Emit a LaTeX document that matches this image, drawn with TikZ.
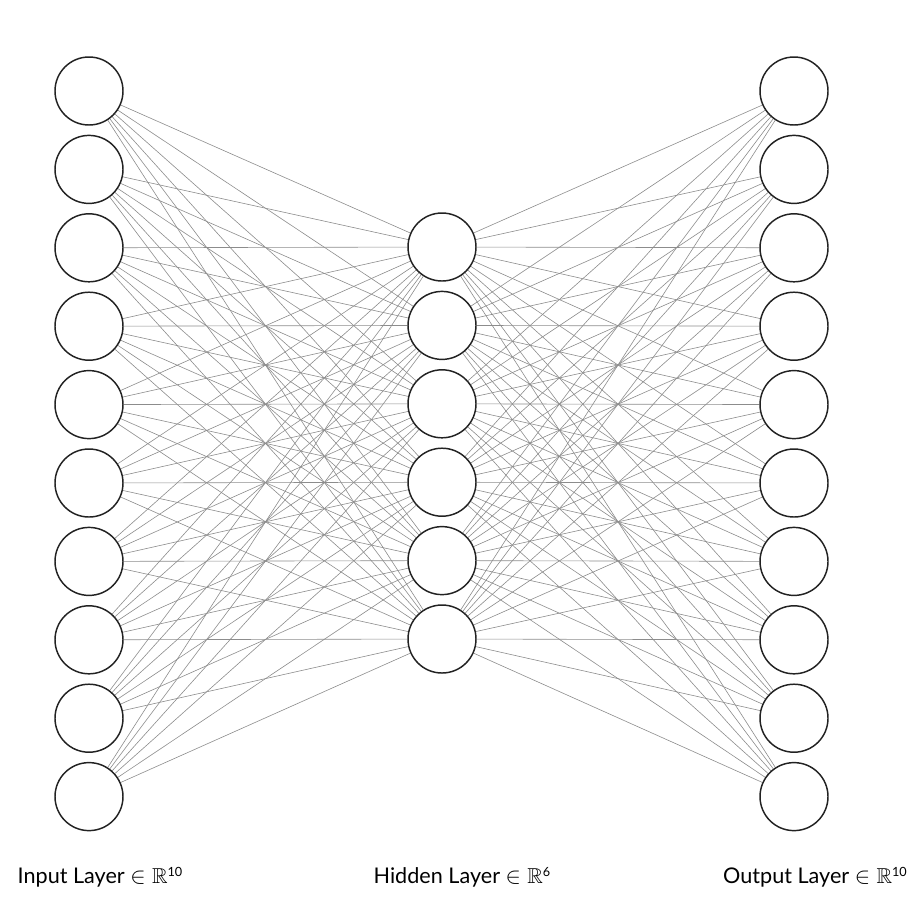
\documentclass[tikz,border=0pt]{standalone}
\usepackage{fontspec}
\usepackage{amssymb}
\setmainfont{Lato}
\usetikzlibrary{backgrounds}
\definecolor{cring}{HTML}{222222}
\definecolor{cedge}{HTML}{8C8C8C}
\newcommand{\dimsup}[1]{\raisebox{0.6ex}{\fontsize{9.5}{10}\selectfont #1}}
\tikzset{
  every picture/.style={line width=1.1pt},
  neuron/.style={circle, draw=cring, fill=white, minimum size=51pt, inner sep=0pt},
  edge/.style={draw=cedge, line width=0.45pt},
  layername/.style={font=\fontsize{16.2}{19}\selectfont, text=black, anchor=base},
}

\begin{document}
\begin{tikzpicture}[x=0.75pt, y=-0.75pt]
  \useasboundingbox (0,0) rectangle (916,915);
  % layers
  \foreach \k in {1,...,10} \node[neuron] (in\k) at (89, 91+78.4*\k-78.4) {};
  \foreach \k in {1,...,6} \node[neuron] (hid\k) at (442, 247+78.4*\k-78.4) {};
  \foreach \k in {1,...,10} \node[neuron] (out\k) at (794, 91+78.4*\k-78.4) {};
  % weights
  \begin{scope}[on background layer]
    \foreach \i in {1,...,10} \foreach \j in {1,...,6} \draw[edge] (in\i) -- (hid\j);
    \foreach \j in {1,...,6} \foreach \o in {1,...,10} \draw[edge] (hid\j) -- (out\o);
  \end{scope}
  % captions
  \node[layername] (inname) at (100,883) {Input Layer $\in\mathbb{R}$\dimsup{10}};
  \node[layername] (hidname) at (462,883) {Hidden Layer $\in\mathbb{R}$\dimsup{6}};
  \node[layername] (outname) at (815,883) {Output Layer $\in\mathbb{R}$\dimsup{10}};
\end{tikzpicture}
\end{document}
